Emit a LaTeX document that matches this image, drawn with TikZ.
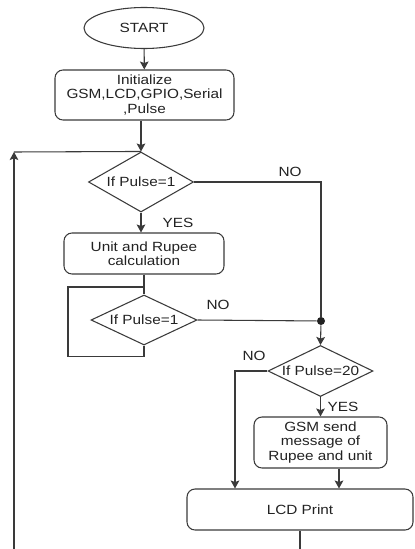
\documentclass[tikz,border=0pt]{standalone}
\usepackage{fontspec}
\newfontfamily\chartfont[FakeStretch=1.15]{Liberation Sans}
\usepackage{tikz}
\usetikzlibrary{positioning,shapes.geometric,arrows.meta,calc}
\definecolor{ink}    {HTML}{222222}
\definecolor{wire}   {HTML}{3A3A3A}
\tikzset{
  every node/.style={font=\chartfont\fontsize{10}{10.8}\selectfont, text=ink},
  % --- nodes
  term/.style  = {ellipse, draw=wire, line width=0.8pt, inner sep=0pt},
  proc/.style  = {rectangle, rounded corners=6pt, draw=wire, line width=0.8pt,
                  align=center, inner sep=0pt},
  test/.style  = {diamond, draw=wire, line width=0.8pt, inner sep=0pt},
  lbl/.style   = {inner sep=0pt},
  dot/.style   = {circle, fill=ink, inner sep=0pt, minimum size=6pt},
  % --- edges
  e/.style     = {-{Stealth[length=6pt,width=6.5pt,inset=1.2pt]}, draw=wire, line width=0.8pt},
  line/.style  = {draw=wire, line width=0.8pt},
}
\begin{document}
\begin{tikzpicture}[x=0.75pt,y=-0.75pt]
  \useasboundingbox (0,0) rectangle (414,549);
  \clip (0,0) rectangle (414,549);

  \node[term, minimum width=90pt, minimum height=30.75pt] (start) at (144,28) {START};
  \node[proc, minimum width=134.25pt, minimum height=37.5pt] (init) at (144.5,95)
        {Initialize\\GSM,LCD,GPIO,Serial\\,Pulse};
  \node[test, aspect=1.75, minimum width=78.75pt, minimum height=45pt] (pulse1) at (141,182) {If Pulse=1};
  \node[proc, minimum width=120pt, minimum height=30.75pt] (calc) at (144,253.5)
        {Unit and Rupee\\calculation};
  \node[test, aspect=2.12, minimum width=79.5pt, minimum height=37.5pt] (pulse2) at (144,320) {If Pulse=1};
  \node[test, aspect=2.06, minimum width=78.75pt, minimum height=38.25pt] (pulse20) at (320.5,371) {If Pulse=20};
  \node[proc, minimum width=99.75pt, minimum height=38.25pt] (gsm) at (320.5,442.5)
        {GSM send\\message of\\Rupee and unit};
  \node[proc, minimum width=169.5pt, minimum height=30.75pt] (lcd) at (300,509.5) {LCD Print};

  \node[dot] (join) at (321,321) {};
  \coordinate (back) at (14,152);
  \coordinate (hold) at (68,287);
  \coordinate (skip) at (235,372);
  \coordinate (send) at (339,0);

  \node[lbl] at (290,172) {NO};
  \node[lbl] at (178,223) {YES};
  \node[lbl] at (218,305) {NO};
  \node[lbl] at (254,356) {NO};
  \node[lbl] at (343,407) {YES};

  \draw[e] (start) -- (init);
  \draw[e] (init.south -| pulse1.north) -- (pulse1.north);
  \draw[e] (pulse1.south) -- (pulse1.south |- calc.north);
  \draw[line] (calc.south -| pulse2.north) -- (pulse2.north);
  \draw[line] (pulse2.south) -- ++(0,11) -| (hold) -- (hold -| pulse2.north);
  \draw[line] (pulse1.east) -| (join);
  \draw[line] (pulse2.east) -- (join);
  \draw[e] (join) -- (pulse20.north);
  \draw[e] (pulse20.south) -- (gsm.north);
  \draw[e] (pulse20.west) -| (skip |- lcd.north);
  \draw[e] (send |- gsm.south) -- (send |- lcd.north);
  \draw[e] (lcd.south) -- ++(0,40) -| (back);
  \draw[line] (back) -- (pulse1.north);
\end{tikzpicture}
\end{document}
